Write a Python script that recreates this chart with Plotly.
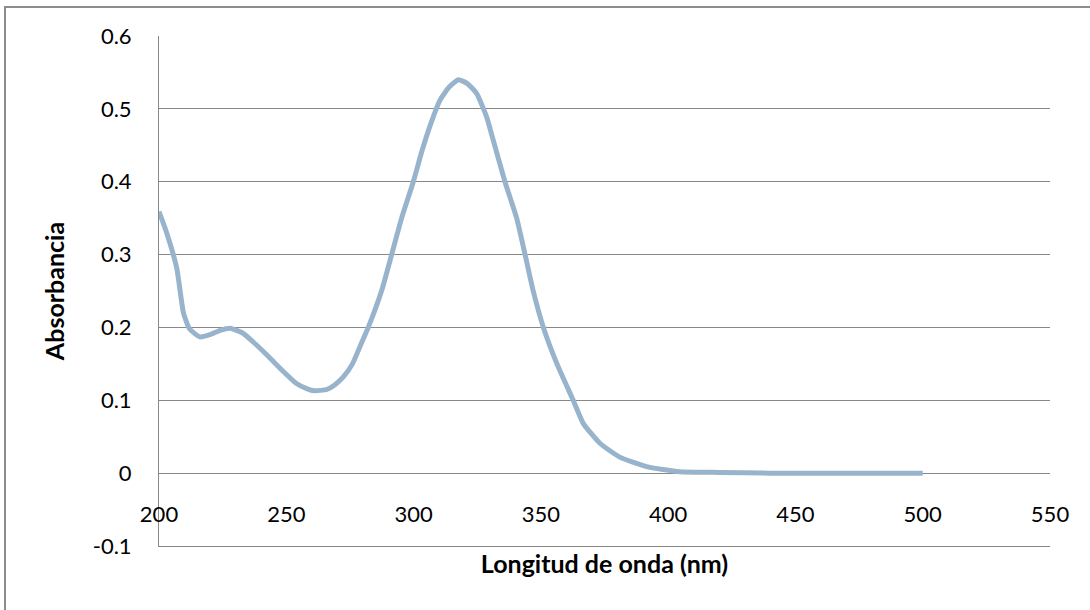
import plotly.graph_objects as go

# Data
wavelength_nm = [200, 203, 207, 209.6, 212, 216, 220, 224, 228, 233, 237, 241, 245, 249,
                 254, 258, 261, 266, 269, 272.4, 276, 279.7, 282.2, 287.5, 291.4, 295.3,
                 299.9, 303.2, 306.4, 310.4, 314, 317.6, 321, 324.8, 328.7, 331.3, 335.9,
                 340.5, 343.8, 347, 351, 356.2, 362.7, 366.7, 373.2, 381, 391.5, 404.6,
                 420, 440, 460, 480, 500]
absorbance = [0.359, 0.33, 0.281, 0.22, 0.198, 0.187, 0.19, 0.196, 0.199, 0.192, 0.18,
              0.167, 0.153, 0.139, 0.123, 0.116, 0.113, 0.115, 0.121, 0.132, 0.15, 0.18,
              0.2, 0.251, 0.3, 0.35, 0.4, 0.441, 0.476, 0.512, 0.53, 0.540, 0.535,
              0.521, 0.489, 0.457, 0.4, 0.35, 0.3, 0.25, 0.2, 0.151, 0.100, 0.068,
              0.041, 0.022, 0.009, 0.002, 0.001, 0.0, 0.0, 0.0, 0.0]

y_tickvals = [-0.1, 0, 0.1, 0.2, 0.3, 0.4, 0.5, 0.6]
y_ticktext = ["-0.1", "0", "0.1", "0.2", "0.3", "0.4", "0.5", "0.6"]
x_tickvals = [200, 250, 300, 350, 400, 450, 500, 550]
x_ticktext = ["200", "250", "300", "350", "400", "450", "500", "550"]

FONT = "Lato, Carlito, Calibri, sans-serif"
GRID = "#888888"

fig = go.Figure()
# invisible copy so the bottom frame axis gets drawn
fig.add_trace(go.Scatter(
    x=wavelength_nm, y=absorbance, mode="lines", xaxis="x2",
    line=dict(color="rgba(0,0,0,0)", width=0),
    showlegend=False, hoverinfo="skip"))
fig.add_trace(go.Scatter(
    x=wavelength_nm, y=absorbance, mode="lines",
    line=dict(color="#98B4CC", width=5, shape="spline", smoothing=0.5),
    showlegend=False, hoverinfo="skip"))

W, H = 1090, 610
L, R, T, B = 159, 40, 36, 64
pw, ph = W - L - R, H - T - B

fig.update_layout(
    width=W, height=H,
    margin=dict(l=L, r=R, t=T, b=B),
    paper_bgcolor="white", plot_bgcolor="white",
    font=dict(family=FONT, color="black", size=22),
    xaxis=dict(
        range=[200, 550], tickvals=x_tickvals, ticktext=x_ticktext,
        showgrid=False, zeroline=False, showline=False,
        anchor="free", position=0.1 / 0.7,
        ticks="outside", ticklen=0, ticklabelstandoff=21,
        tickfont=dict(size=22, family=FONT),
        title=dict(text="<b>Longitud de onda (nm)</b>",
                   font=dict(size=25, family=FONT), standoff=29),
    ),
    xaxis2=dict(
        range=[200, 550], overlaying="x", anchor="y", side="bottom",
        showgrid=False, zeroline=False, showticklabels=False, ticks="",
        showline=True, linecolor=GRID, linewidth=1,
    ),
    yaxis=dict(
        range=[-0.1, 0.6], tickvals=y_tickvals, ticktext=y_ticktext,
        showgrid=True, gridcolor=GRID, gridwidth=1,
        zeroline=True, zerolinecolor=GRID, zerolinewidth=1,
        showline=True, linecolor=GRID, linewidth=1,
        ticks="outside", ticklen=0, ticklabelstandoff=22,
        tickfont=dict(size=22, family=FONT),
        title=dict(text="<b>Absorbancia</b>",
                   font=dict(size=25, family=FONT), standoff=20),
    ),
    shapes=[dict(type="rect", xref="paper", yref="paper",
                 x0=(5 - L) / pw, x1=(W + 20 - L) / pw,
                 y0=-(B + 20) / ph, y1=(H - 7 - B) / ph,
                 line=dict(color="#8c8c8c", width=2), layer="below")],
)

fig.write_html("out.html", config={"displayModeBar": False},
               post_script="document.body.style.margin='0';document.body.style.overflow='hidden';")
